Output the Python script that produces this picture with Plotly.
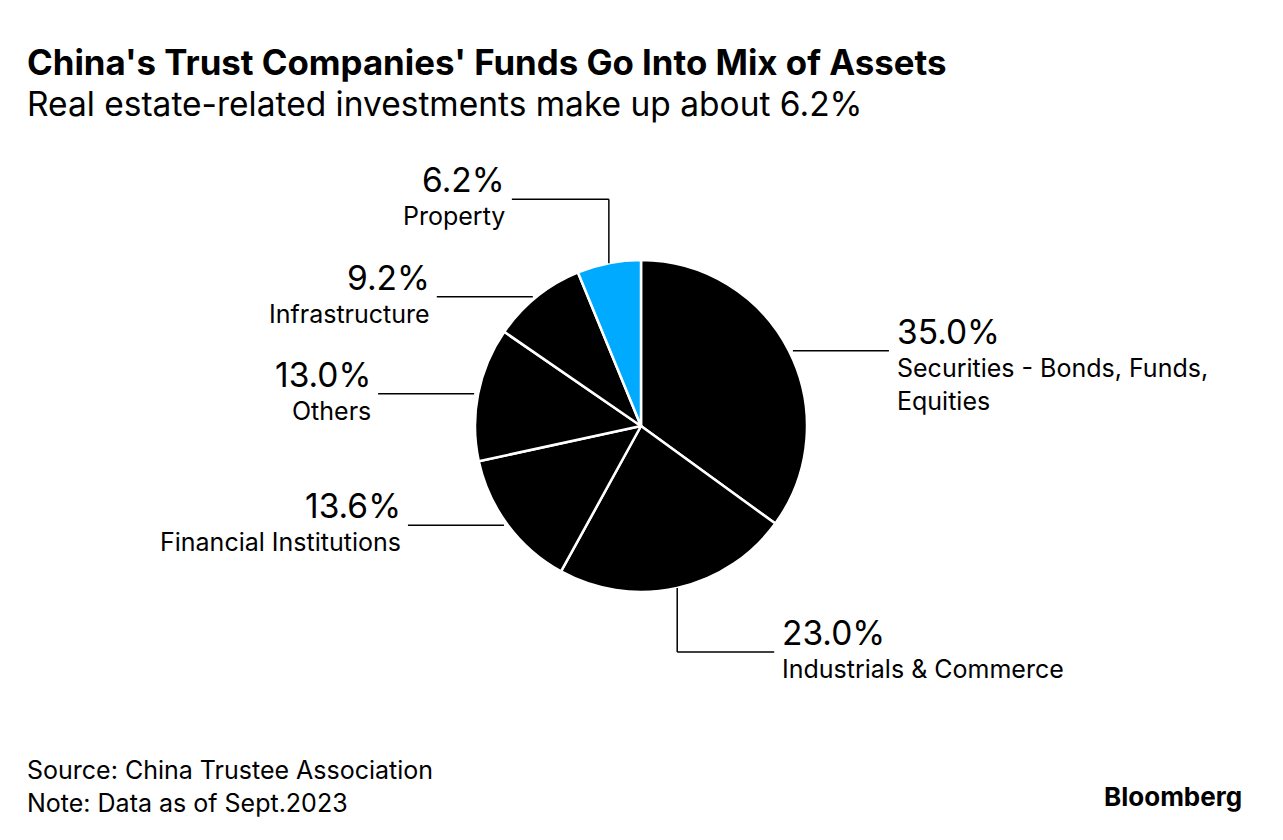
import math
import plotly.graph_objects as go

# ---- data ----
categories = ["Securities - Bonds, Funds,<br>Equities", "Industrials & Commerce",
              "Financial Institutions", "Others", "Infrastructure", "Property"]
values = [35.0, 23.0, 13.6, 13.0, 9.2, 6.2]
colors = ["#000000", "#000000", "#000000", "#000000", "#000000", "#00aaff"]

W, H = 1283, 840
CX, CY, R = 641, 426, 166  # pie centre / radius in px
FONT = "Inter"

def px(x):
    return x / W

def py(y):
    return 1 - y / H

fig = go.Figure(go.Pie(
    labels=categories, values=values, sort=False, direction="clockwise", rotation=0,
    marker=dict(colors=colors, line=dict(color="white", width=2.5)),
    textinfo="none", hoverinfo="label+percent", showlegend=False,
    domain=dict(x=[px(CX - R), px(CX + R)], y=[py(CY + R), py(CY - R)]),
))

shapes = []
annotations = []
total = sum(values)
cum = 0.0
for lab, v in zip(categories, values):
    mid = (cum + v / 2) / total * 2 * math.pi
    cum += v
    ex = CX + R * math.sin(mid)
    ey = CY - R * math.cos(mid)
    right = math.sin(mid) > 0
    sgn = 1 if right else -1
    if abs(math.cos(mid)) > 0.9:
        # elbow leader: vertical, then horizontal
        vy = ey + (64 if math.cos(mid) < 0 else -64)
        shapes.append(dict(type="line", xref="paper", yref="paper",
                           x0=px(ex), y0=py(ey), x1=px(ex), y1=py(vy),
                           line=dict(color="black", width=1.5)))
        endx = ex + sgn * 97
        shapes.append(dict(type="line", xref="paper", yref="paper",
                           x0=px(ex), y0=py(vy), x1=px(endx), y1=py(vy),
                           line=dict(color="black", width=1.5)))
        ly = vy
    else:
        endx = ex + sgn * 100
        shapes.append(dict(type="line", xref="paper", yref="paper",
                           x0=px(ex + sgn * 4), y0=py(ey), x1=px(endx), y1=py(ey),
                           line=dict(color="black", width=1.5)))
        ly = ey
    tx = endx + (6 if right else -5)
    anchor = "left" if right else "right"
    annotations.append(dict(x=px(tx), y=py(ly - 19), xref="paper", yref="paper",
                            text=f"{v:.1f}%", showarrow=False, xanchor=anchor, yanchor="middle",
                            align=anchor, font=dict(family=FONT, size=33.5, color="black")))
    annotations.append(dict(x=px(tx), y=py(ly), xref="paper", yref="paper",
                            text=lab, showarrow=False, xanchor=anchor, yanchor="top",
                            align=anchor, font=dict(family=FONT, size=25, color="black")))

annotations += [
    dict(x=px(25), y=py(62), xref="paper", yref="paper", xanchor="left", yanchor="middle",
         text="<b>China's Trust Companies' Funds Go Into Mix of Assets</b>", showarrow=False,
         font=dict(family=FONT, size=34.8, color="black")),
    dict(x=px(25), y=py(104), xref="paper", yref="paper", xanchor="left", yanchor="middle",
         text="Real estate-related investments make up about 6.2%", showarrow=False,
         font=dict(family=FONT, size=33.5, color="black")),
    dict(x=px(25), y=py(786), xref="paper", yref="paper", xanchor="left", yanchor="middle",
         text="Source: China Trustee Association<br>Note: Data as of Sept.2023", showarrow=False,
         align="left", font=dict(family=FONT, size=25, color="black")),
    dict(x=px(1244), y=py(796), xref="paper", yref="paper", xanchor="right", yanchor="middle",
         text="<b>Bloomberg</b>", showarrow=False,
         font=dict(family=FONT, size=26, color="black")),
]

fig.update_layout(width=W, height=H, margin=dict(l=0, r=0, t=0, b=0),
                  paper_bgcolor="white", plot_bgcolor="white",
                  shapes=shapes, annotations=annotations)
fig.write_html("out.html", config={"displayModeBar": False},
               post_script="document.body.style.margin='0';")
